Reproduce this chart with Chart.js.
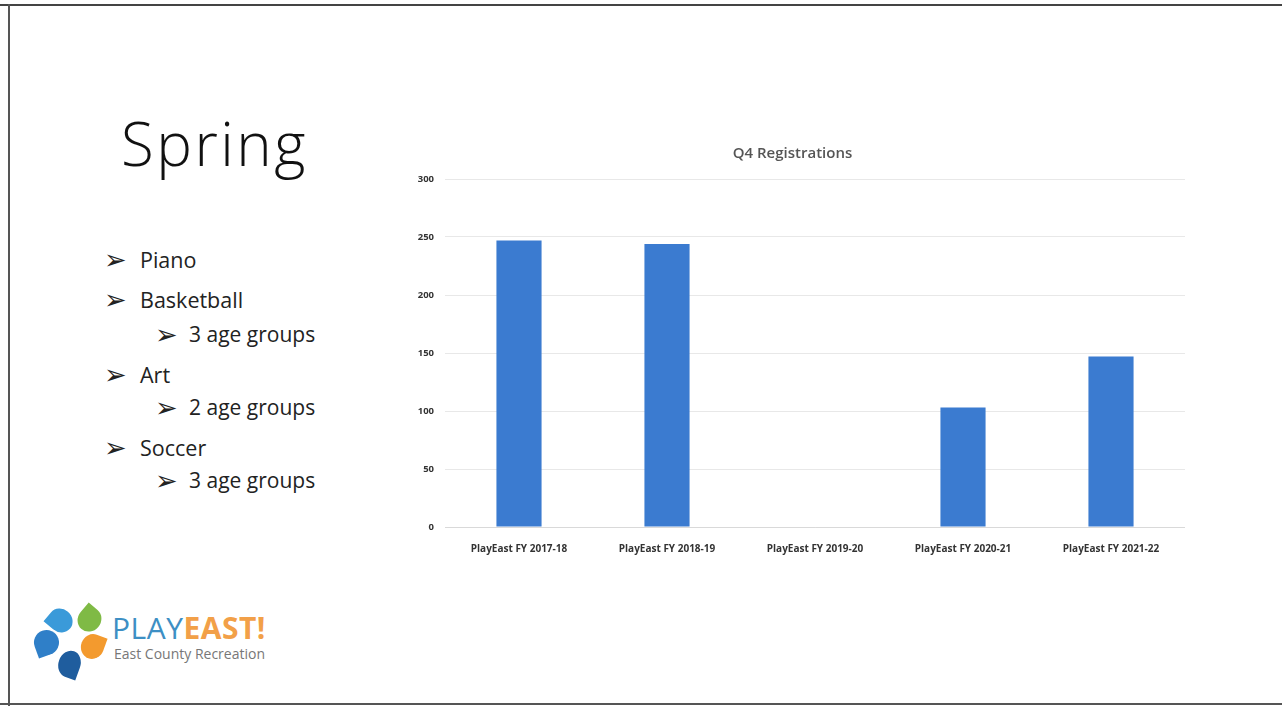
<!DOCTYPE html>
<html>
<head>
<meta charset="utf-8">
<script src="https://cdn.jsdelivr.net/npm/chart.js@4/dist/chart.umd.min.js"></script>
<style>
  html, body { margin: 0; padding: 0; background: #fff; }
  body { width: 1282px; height: 708px; position: relative; overflow: hidden; font-family: 'Open Sans', sans-serif; }
  .frame-top { position: absolute; left: 0; top: 4px; width: 1282px; height: 2px; background: #444; }
  .frame-left { position: absolute; left: 8px; top: 4px; width: 2px; height: 702px; background: #555; }
  .frame-bottom { position: absolute; left: 0; top: 703px; width: 1282px; height: 2px; background: #555; }
  .title { position: absolute; left: 121px; top: 102px; font-size: 60px; font-weight: 300; color: #111; letter-spacing: 2.5px; }
  .item { position: absolute; font-size: 21.5px; color: #222; white-space: nowrap; }
  .item.sub { font-size: 21px; }
  .arrow { position: absolute; font-family: 'DejaVu Sans', sans-serif; font-size: 27px; line-height: 30px; color: #222; }
  #wrap { position: absolute; left: 400px; top: 138px; width: 785px; height: 417px; }
  .blob { position: absolute; border-radius: 50% 50% 50% 0; }
  .logo-text { position: absolute; left: 112px; top: 611px; font-size: 30px; line-height: 34px; letter-spacing: 0.5px; }
  .logo-sub { position: absolute; left: 114px; top: 644px; font-size: 14px; color: #777; }
</style>
</head>
<body>
<div class="frame-top"></div>
<div class="frame-left"></div>
<div class="frame-bottom"></div>

<div class="title">Spring</div>

<div id="list"></div>

<div id="wrap"><canvas id="chart"></canvas></div>

<div class="blob" style="left:48px;top:609px;width:25px;height:23px;background:#3a9ad9;transform:rotate(40deg)"></div>
<div class="blob" style="left:77px;top:608px;width:25px;height:23px;background:#7fba45;transform:rotate(130deg)"></div>
<div class="blob" style="left:81px;top:634px;width:23px;height:25px;background:#f39a2e;transform:rotate(200deg)"></div>
<div class="blob" style="left:56px;top:653px;width:27px;height:22px;background:#1f5d9e;transform:rotate(290deg)"></div>
<div class="blob" style="left:34px;top:630px;width:25px;height:25px;background:#2f7fc8;transform:rotate(-20deg)"></div>
<div class="logo-text"><span style="color:#3d8fc4;font-weight:400">PLAY</span><span style="color:#f2a048;font-weight:700">EAST!</span></div>
<div class="logo-sub">East County Recreation</div>

<script>
// пункты списка слева
const listItems = [
  { text: 'Piano', level: 0, y: 261 },
  { text: 'Basketball', level: 0, y: 301 },
  { text: '3 age groups', level: 1, y: 336 },
  { text: 'Art', level: 0, y: 376 },
  { text: '2 age groups', level: 1, y: 409 },
  { text: 'Soccer', level: 0, y: 449 },
  { text: '3 age groups', level: 1, y: 482 }
];

// данные диаграммы
const categories = [
  'PlayEast FY 2017-18',
  'PlayEast FY 2018-19',
  'PlayEast FY 2019-20',
  'PlayEast FY 2020-21',
  'PlayEast FY 2021-22'
];
const registrations = [247, 244, 0, 103, 147];
const yTicks = [0, 50, 100, 150, 200, 250, 300];

const list = document.getElementById('list');
for (const it of listItems) {
  const a = document.createElement('div');
  a.className = 'arrow';
  a.textContent = '➢';
  a.style.left = (it.level ? 155 : 104) + 'px';
  a.style.top = (it.y - 16) + 'px';
  list.appendChild(a);

  const t = document.createElement('div');
  t.className = 'item' + (it.level ? ' sub' : '');
  t.textContent = it.text;
  t.style.left = (it.level ? 189 : 140) + 'px';
  t.style.top = (it.y - 16) + 'px';
  list.appendChild(t);
}

new Chart(document.getElementById('chart'), {
  type: 'bar',
  data: {
    labels: categories,
    datasets: [{
      label: 'Q4 Registrations',
      data: registrations,
      backgroundColor: '#3b7bd0',
      categoryPercentage: 1,
      barPercentage: 0.305
    }]
  },
  options: {
    responsive: true,
    maintainAspectRatio: false,
    animation: false,
    layout: { padding: 0 },
    plugins: {
      legend: { display: false },
      tooltip: { enabled: false },
      title: {
        display: true,
        text: 'Q4 Registrations',
        color: '#555',
        font: { family: 'Open Sans', size: 15, weight: '600' },
        padding: { top: 7, bottom: 16 }
      }
    },
    scales: {
      x: {
        grid: { display: false },
        border: { color: '#d9d9d9' },
        ticks: {
          color: '#333',
          font: { family: 'Open Sans', size: 10, weight: '700' },
          maxRotation: 0,
          padding: 8
        },
        afterFit: s => { s.height = 28; }
      },
      y: {
        min: 0,
        max: 300,
        afterBuildTicks: s => { s.ticks = yTicks.map(v => ({ value: v })); },
        grid: { color: '#e8e8e8', drawTicks: false },
        border: { display: false },
        ticks: {
          color: '#333',
          font: { family: 'Open Sans', size: 9.5, weight: '700' },
          padding: 11
        },
        afterFit: s => { s.width = 45; }
      }
    }
  }
});
</script>
</body>
</html>
